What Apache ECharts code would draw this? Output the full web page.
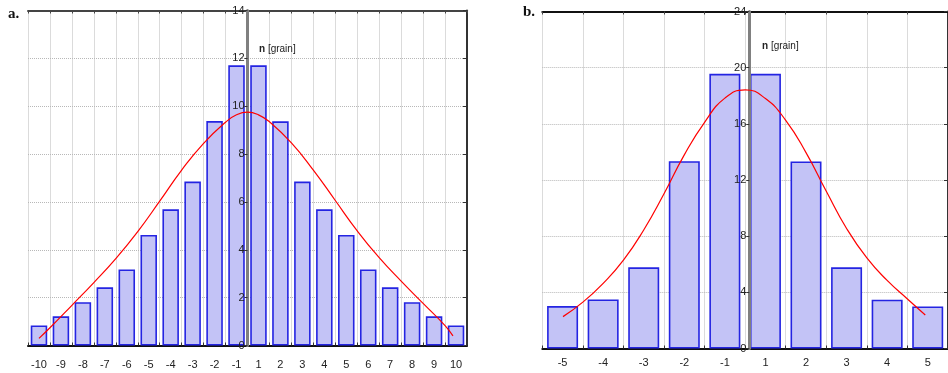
<!DOCTYPE html>
<html>
<head>
<meta charset="utf-8">
<script src="https://cdn.jsdelivr.net/npm/echarts@6/dist/echarts.min.js"></script>
<style>
  html, body { margin: 0; padding: 0; background: #fff; }
  #chart { width: 948px; height: 373px; }
</style>
</head>
<body>
<div id="chart"></div>
<script>
// ---- Panel a ----
const catsA = ['-10','-9','-8','-7','-6','-5','-4','-3','-2','-1','1','2','3','4','5','6','7','8','9','10'];
const barsA = [0.84, 1.22, 1.81, 2.43, 3.18, 4.62, 5.69, 6.85, 9.38, 11.71, 11.71, 9.37, 6.85, 5.69, 4.62, 3.18, 2.43, 1.81, 1.22, 0.84];
const curveAx = [-9.5, -9, -8, -7, -6, -5, -4, -3, -2, -1, -0.5, 0, 0.5, 1, 2, 3, 4, 5, 6, 7, 8, 9, 9.36];
const curveAy = [0.30, 0.74, 1.68, 2.63, 3.63, 4.76, 6.03, 7.33, 8.45, 9.33, 9.64, 9.75, 9.64, 9.35, 8.47, 7.33, 6.06, 4.79, 3.67, 2.69, 1.76, 0.83, 0.40];
const ticksA = [0, 2, 4, 6, 8, 10, 12, 14];
const xRangeA = [-10, 10];

// ---- Panel b ----
const catsB = ['-5','-4','-3','-2','-1','1','2','3','4','5'];
const barsB = [3.02, 3.49, 5.78, 13.34, 19.56, 19.56, 13.32, 5.78, 3.48, 3.00];
const curveBx = [-4.49, -4.0, -3.5, -3.0, -2.5, -2.0, -1.5, -1.0, -0.5, 0.0, 0.5, 1.0, 1.5, 2.0, 2.5, 3.0, 3.5, 4.0, 4.44];
const curveBy = [2.27, 3.30, 4.64, 6.29, 8.44, 11.02, 13.79, 16.11, 17.83, 18.42, 17.80, 16.25, 13.95, 11.20, 8.55, 6.45, 4.85, 3.53, 2.39];
const ticksB = [0, 4, 8, 12, 16, 20, 24];
const xRangeB = [-5, 5];

const labelFont = { fontFamily: 'Liberation Sans, Arial, sans-serif', fontSize: 11, color: '#222' };
const gridLine = { show: true, lineStyle: { color: '#b8b8b8', width: 1, type: [1, 1] } };
const barStyle = { color: '#c3c3f6', borderColor: '#2424e2', borderWidth: 1.6 };

const gridA = { left: 28, top: 10.5, width: 439, height: 335 };
const gridB = { left: 542.3, top: 11.5, width: 414, height: 337 };

function zip(xs, ys) { return xs.map((x, i) => [x, ys[i]]); }
// move the labelled y axis to x = 0 of the panel's value axis
function zeroOffset(grid, range) { return -grid.width * (0 - range[0]) / (range[1] - range[0]); }

const chart = echarts.init(document.getElementById('chart'), null, { renderer: 'canvas' });

function nameText(left, top) {
  return { type: 'text', left: left, top: top, z: 10, style: {
    text: '{b|n} [grain]',
    rich: { b: { fontWeight: 'bold', fontSize: 10, fontFamily: 'Liberation Sans, Arial, sans-serif', fill: '#222' } },
    font: '10px "Liberation Sans", Arial, sans-serif', fill: '#222' } };
}

function centerY(gridIndex, ticks, grid, range) {
  return { type: 'value', gridIndex: gridIndex, min: ticks[0], max: ticks[ticks.length - 1], interval: ticks[1] - ticks[0],
    position: 'left', offset: zeroOffset(grid, range), z: 4,
    axisLine: { show: true, onZero: false, lineStyle: { color: '#808080', width: 3 } },
    axisTick: { show: true, length: 3, lineStyle: { color: '#333' } },
    axisLabel: Object.assign({ margin: 3 }, labelFont),
    splitLine: { show: false } };
}
function borderY(gridIndex, ticks) {
  return { type: 'value', gridIndex: gridIndex, min: ticks[0], max: ticks[ticks.length - 1], interval: ticks[1] - ticks[0],
    position: 'right', z: 0,
    axisLine: { show: true, onZero: false, lineStyle: { color: '#333', width: 2 } },
    axisTick: { show: true, inside: true, length: 4, lineStyle: { color: '#333' } },
    axisLabel: { show: false }, splitLine: gridLine };
}

chart.setOption({
  animation: false,
  backgroundColor: '#fff',
  grid: [
    Object.assign({ containLabel: false }, gridA),
    Object.assign({ containLabel: false }, gridB)
  ],
  xAxis: [
    { type: 'category', gridIndex: 0, data: catsA, position: 'bottom',
      axisLine: { show: true, onZero: false, lineStyle: { color: '#111', width: 2 } },
      axisTick: { show: true, inside: true, length: 3, lineStyle: { color: '#333' } },
      axisLabel: Object.assign({ margin: 14 }, labelFont),
      splitLine: gridLine },
    { type: 'value', gridIndex: 0, min: xRangeA[0], max: xRangeA[1], interval: 1, position: 'top',
      axisLine: { show: true, onZero: false, lineStyle: { color: '#444', width: 2 } },
      axisTick: { show: true, inside: true, length: 3, lineStyle: { color: '#444' } },
      axisLabel: { show: false }, splitLine: { show: false } },
    { type: 'category', gridIndex: 1, data: catsB, position: 'bottom',
      axisLine: { show: true, onZero: false, lineStyle: { color: '#111', width: 2 } },
      axisTick: { show: true, inside: true, length: 3, lineStyle: { color: '#333' } },
      axisLabel: Object.assign({ margin: 9 }, labelFont),
      splitLine: gridLine },
    { type: 'value', gridIndex: 1, min: xRangeB[0], max: xRangeB[1], interval: 1, position: 'top',
      axisLine: { show: true, onZero: false, lineStyle: { color: '#111', width: 2 } },
      axisTick: { show: true, inside: true, length: 3, lineStyle: { color: '#444' } },
      axisLabel: { show: false }, splitLine: { show: false } }
  ],
  yAxis: [
    centerY(0, ticksA, gridA, xRangeA),
    borderY(0, ticksA),
    centerY(1, ticksB, gridB, xRangeB),
    borderY(1, ticksB)
  ],
  series: [
    { type: 'bar', xAxisIndex: 0, yAxisIndex: 0, data: barsA, barWidth: 16.5, itemStyle: barStyle, z: 2 },
    { type: 'line', xAxisIndex: 1, yAxisIndex: 0, data: zip(curveAx, curveAy), smooth: true, showSymbol: false,
      lineStyle: { color: '#ff0000', width: 1.2 }, z: 5 },
    { type: 'bar', xAxisIndex: 2, yAxisIndex: 2, data: barsB, barWidth: 31, itemStyle: barStyle, z: 2 },
    { type: 'line', xAxisIndex: 3, yAxisIndex: 2, data: zip(curveBx, curveBy), smooth: true, showSymbol: false,
      lineStyle: { color: '#ff0000', width: 1.2 }, z: 5 }
  ],
  graphic: [
    { type: 'text', left: 8, top: 7, style: { text: 'a.', font: 'bold 15px "Liberation Serif", "Times New Roman", serif', fill: '#111' } },
    { type: 'text', left: 523, top: 5, style: { text: 'b.', font: 'bold 15px "Liberation Serif", "Times New Roman", serif', fill: '#111' } },
    nameText(259, 44),
    nameText(762, 41)
  ]
});
</script>
</body>
</html>
